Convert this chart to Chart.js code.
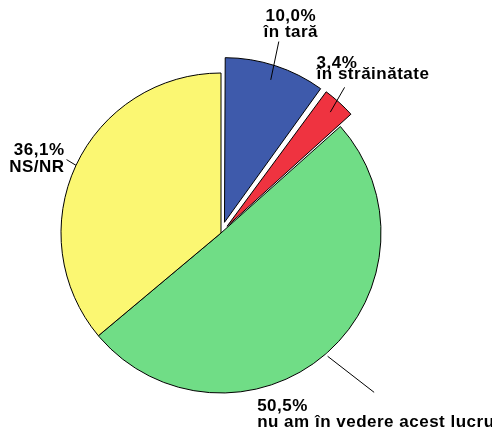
<!DOCTYPE html>
<html>
<head>
<meta charset="utf-8">
<script src="https://cdn.jsdelivr.net/npm/chart.js@4.4.1/dist/chart.umd.min.js"></script>
<style>
  html, body { margin: 0; padding: 0; background: #ffffff; }
  #c { display: block; }
</style>
</head>
<body>
<canvas id="c" width="492" height="433"></canvas>
<script>
const categories = ['în tară', 'în străinătate', 'nu am în vedere acest lucru', 'NS/NR'];
const values = [10.0, 3.4, 50.5, 36.1];
const valueLabels = ['10,0%', '3,4%', '50,5%', '36,1%'];

const colors = ['#3e5aab', '#ef3340', '#70dd86', '#fbf772'];
// Chart.js moves a slice by offset/4 * (2 - sin(sweep)); these give ~16px
const offsets = [45, 36, 0, 0];

// leader line and label placement per slice (relative to arc centre / line end)
const labelSpec = [
  { r0: 161, r1: 200, da1: -1.2, dx: 12,  dy: [-21, -5], align: 'center' },
  { r0: 163, r1: 191, da1: -1.8, dx: -28, dy: [-19, -8], align: 'left' },
  { r0: 163, r1: 221, da1: -3.0, dx: -117, dy: [19, 35], align: 'left' },
  { r0: 160, r1: 171, da1: 0.4,  dx: -2,  dy: [-5, 12], align: 'right' }
];

const labelPlugin = {
  id: 'sliceLabels',
  afterDatasetsDraw(chart) {
    const ctx = chart.ctx;
    const meta = chart.getDatasetMeta(0);
    ctx.save();
    ctx.strokeStyle = '#000';
    ctx.lineWidth = 1;
    ctx.fillStyle = '#000';
    ctx.font = 'bold 17px "Liberation Sans", Arial, sans-serif';
    if ('letterSpacing' in ctx) ctx.letterSpacing = '0.5px';
    ctx.textBaseline = 'alphabetic';
    meta.data.forEach((arc, i) => {
      const spec = labelSpec[i];
      const mid = (arc.startAngle + arc.endAngle) / 2;
      const a1 = mid + spec.da1 * Math.PI / 180;
      const x0 = arc.x + Math.cos(mid) * spec.r0;
      const y0 = arc.y + Math.sin(mid) * spec.r0;
      const x1 = arc.x + Math.cos(a1) * spec.r1;
      const y1 = arc.y + Math.sin(a1) * spec.r1;
      ctx.beginPath();
      ctx.moveTo(x0, y0);
      ctx.lineTo(x1, y1);
      ctx.stroke();
      ctx.textAlign = spec.align;
      ctx.fillText(valueLabels[i], x1 + spec.dx, y1 + spec.dy[0]);
      ctx.fillText(categories[i], x1 + spec.dx, y1 + spec.dy[1]);
    });
    ctx.restore();
  }
};

new Chart(document.getElementById('c'), {
  type: 'pie',
  data: {
    labels: categories,
    datasets: [{
      data: values,
      backgroundColor: colors,
      borderColor: '#000000',
      borderWidth: 1,
      borderJoinStyle: 'miter',
      offset: offsets,
      radius: 160
    }]
  },
  options: {
    responsive: false,
    animation: false,
    layout: { padding: { left: 52.5, right: 102.5, top: 64.5, bottom: 31.5 } },
    plugins: {
      legend: { display: false },
      tooltip: { enabled: false }
    }
  },
  plugins: [labelPlugin]
});
</script>
</body>
</html>
